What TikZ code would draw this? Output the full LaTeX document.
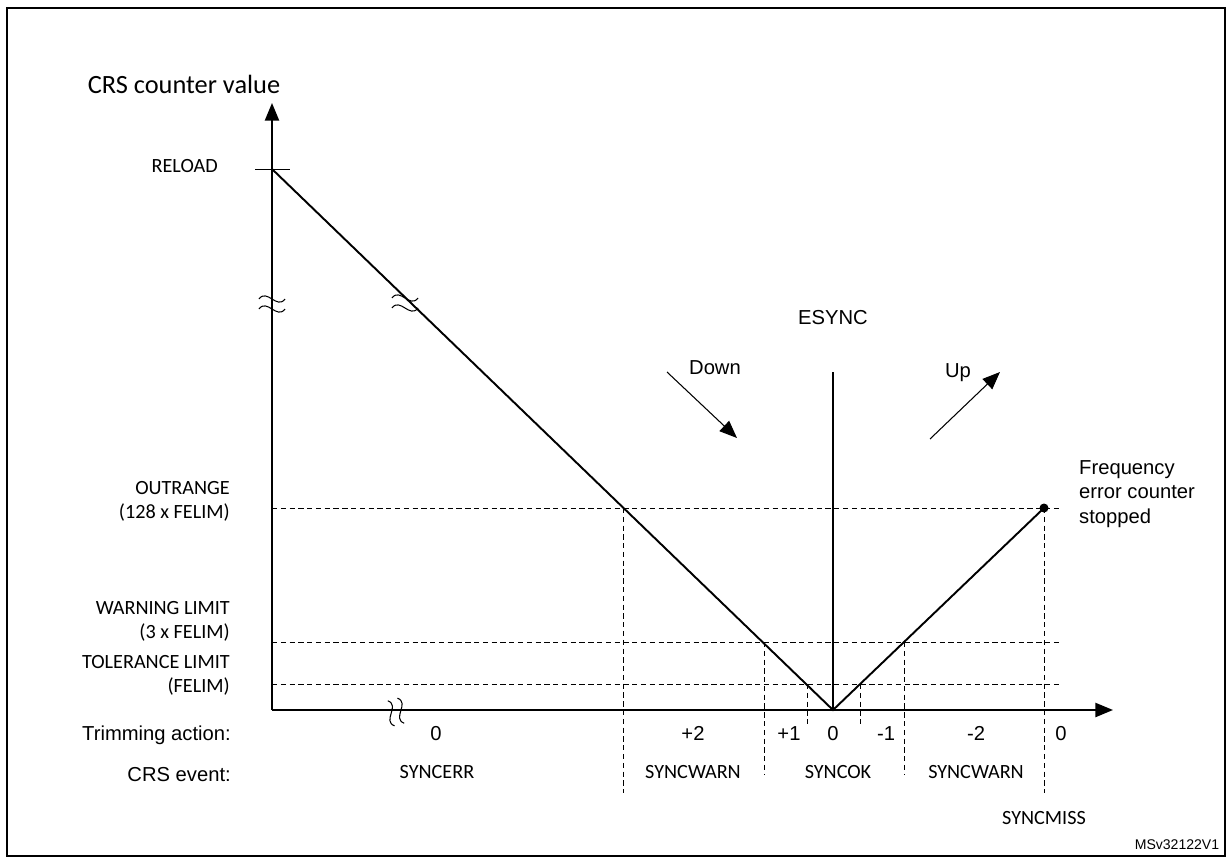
\documentclass[tikz,border=0pt]{standalone}
\usepackage{fontspec}
\setmainfont{Liberation Sans}
\newfontfamily\calib{Carlito}
\usetikzlibrary{arrows.meta,positioning}
\tikzstyle{axis} = [draw, line width=1.1pt, -{Triangle[length=10pt,width=8pt]}]
\tikzstyle{curve} = [draw, line width=1.1pt]
\tikzstyle{guide} = [draw, densely dashed, thin]
\tikzstyle{levellabel} = [font=\calib\fontsize{11.5}{13.6}\selectfont, align=right, anchor=east]
\tikzstyle{rowlabel} = [font=\fontsize{11.5}{13}\selectfont, anchor=east]
\tikzstyle{rowvalue} = [font=\fontsize{11.5}{13}\selectfont, text height=8pt, text depth=2pt]
\tikzstyle{eventlabel} = [font=\calib\fontsize{11.5}{13}\selectfont]
\tikzstyle{dirarrow} = [draw, semithick, -{Triangle[length=10pt,width=8pt]}]
\newcommand{\brkmark}[3]{\draw[semithick,rotate around={#3:(#1,#2)}] (#1-13,#2-5) .. controls (#1-5,#2-16) and (#1+5,#2+6) .. (#1+13,#2-5) (#1-13,#2+5) .. controls (#1-5,#2-6) and (#1+5,#2+16) .. (#1+13,#2+5);}
\begin{document}
\begin{tikzpicture}[x=0.02cm,y=-0.02cm]
\useasboundingbox (0,0) rectangle (1232,862);
\draw[thick] (7,8) -- (1225,8) -- (1225,856) -- (7,856) -- cycle;

% axes
\coordinate (o) at (272,710);
\coordinate (ytop) at (272,103);
\coordinate (xend) at (1113,710);
\path [axis] (o) -- (ytop);
\path [axis] (o) -- (xend);
\node (ylabel) at (184,84) [font=\calib\fontsize{15}{17}\selectfont] {CRS counter value};

% counter curve
\coordinate (reload) at (272,169);
\coordinate (zero) at (833,710);
\coordinate (stop) at (1044,508);
\draw (255,169) -- (290,169);
\path [curve] (reload) -- (zero) -- (stop);
\fill (stop) circle (4.5);
\brkmark{272}{304}{0}
\brkmark{405}{303}{0}
\brkmark{396}{712}{-75}

% ESYNC
\node (esync) at (833,318) [font=\fontsize{11.5}{13}\selectfont] {ESYNC};
\coordinate (etop) at (833,372);
\path [draw, semithick] (etop) -- (zero);

% levels
\path [guide] (272,508) -- (1062,508);
\path [guide] (272,642) -- (1062,642);
\path [guide] (272,684) -- (1062,684);
\path [guide] (623,508) -- (623,793);
\path [guide] (764,642) -- (764,775);
\path [guide] (807,684) -- (807,727);
\path [guide] (860,684) -- (860,727);
\path [guide] (904,642) -- (904,775);
\path [guide] (1044,508) -- (1044,793);

\node (reloadlbl) at (224,166) [levellabel] {RELOAD};
\node (outrange) at (236,501) [levellabel] {OUTRANGE\\(128 x FELIM)};
\node (warning) at (236,621) [levellabel] {WARNING LIMIT\\(3 x FELIM)};
\node (tolerance) at (236,675) [levellabel] {TOLERANCE LIMIT\\(FELIM)};

% direction
\node (down) at (715,368) [font=\fontsize{11.5}{13}\selectfont] {Down};
\coordinate (d1) at (667,372);
\coordinate (d2) at (737,438);
\path [dirarrow] (d1) -- (d2);
\node (up) at (958,373) [font=\fontsize{11.5}{13}\selectfont] {Up};
\coordinate (u1) at (930,439);
\coordinate (u2) at (1000,372);
\path [dirarrow] (u1) -- (u2);
\node (stopped) at (1073,494) [anchor=west, align=left, font=\fontsize{11.5}{13.8}\selectfont] {Frequency\\error counter\\stopped};

% rows
\node (trim) at (237,735) [rowlabel] {Trimming action:};
\node (event) at (237,775) [rowlabel] {CRS event:};
\node (t1) at (436,735) [rowvalue] {0};
\node (t2) at (693,735) [rowvalue] {+2};
\node (t3) at (789,735) [rowvalue] {+1};
\node (t4) at (833,735) [rowvalue] {0};
\node (t5) at (886,735) [rowvalue] {-1};
\node (t6) at (976,735) [rowvalue] {-2};
\node (t7) at (1061,735) [rowvalue] {0};
\node (e1) at (437,772) [eventlabel] {SYNCERR};
\node (e2) at (693,772) [eventlabel] {SYNCWARN};
\node (e3) at (838,772) [eventlabel] {SYNCOK};
\node (e4) at (976,772) [eventlabel] {SYNCWARN};
\node (e5) at (1044,818) [eventlabel] {SYNCMISS};
\node (ref) at (1177,845) [font=\fontsize{8}{9}\selectfont] {MSv32122V1};
\end{tikzpicture}
\end{document}
